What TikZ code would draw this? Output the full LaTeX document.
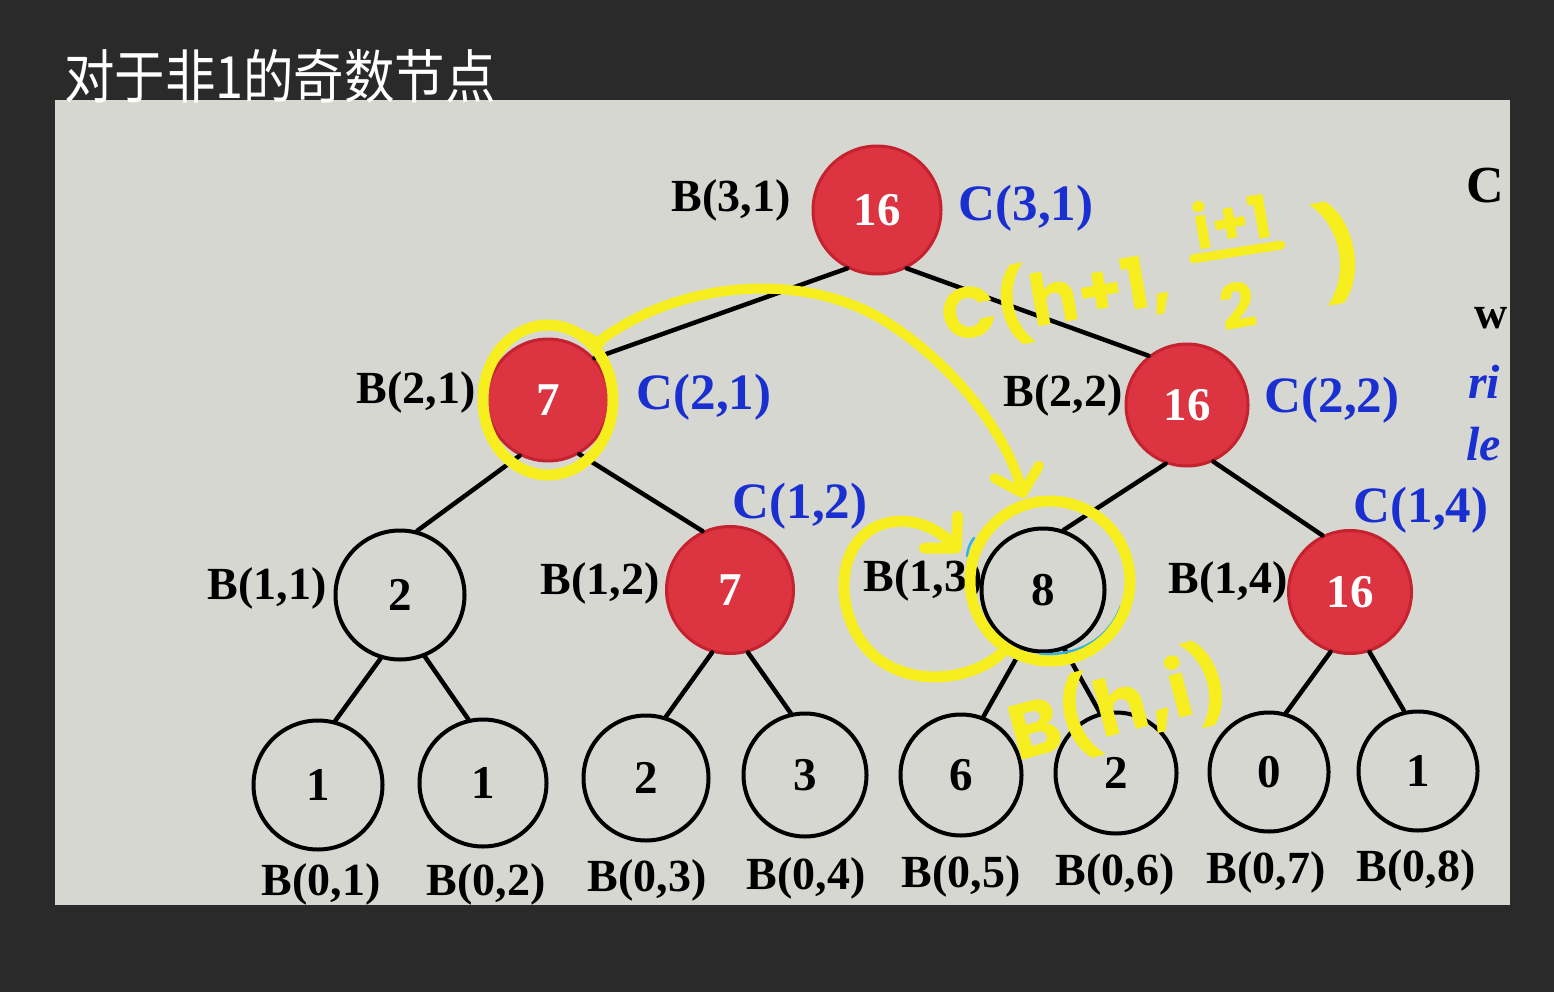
\documentclass[tikz,border=0pt]{standalone}
\usepackage{fontspec}
\setmainfont{Liberation Serif}
\newfontfamily\cjkhand{Noto Sans CJK SC}
\newfontfamily\handfont{Poppins}
\usetikzlibrary{arrows.meta}
\definecolor{bgdark}{HTML}{2A2A2A}
\definecolor{screen}{HTML}{D6D7D1}
\definecolor{nodered}{HTML}{DC3440}
\definecolor{noderim}{HTML}{C4222E}
\definecolor{labblue}{HTML}{1A2FD0}
\definecolor{hiyellow}{HTML}{F6EE1E}
\definecolor{pencyan}{HTML}{38B2DA}
\tikzset{
  lbl/.style={inner sep=0pt, font=\fontsize{46}{50}\selectfont\bfseries},
  clbl/.style={inner sep=0pt, text=labblue, font=\fontsize{51}{55}\selectfont\bfseries},
  leaflbl/.style={lbl},
  numfont/.style={font=\fontsize{47}{50}\selectfont\bfseries},
  wnode/.style={circle, draw=black, line width=4pt, fill=screen, inner sep=0pt, numfont},
  rnode/.style={circle, draw=noderim, line width=3pt, fill=nodered, text=white, inner sep=0pt, numfont},
  edge/.style={line width=4.5pt, line cap=round},
  pen/.style={draw=hiyellow, line width=11pt, line cap=round, line join=round},
  penarrow/.style={pen, -{Straight Barb[length=22pt,width=46pt,round]}},
  pentext/.style={text=hiyellow, inner sep=0pt, font=\handfont\bfseries\fontsize{72}{76}\selectfont},
}
\begin{document}
\begin{tikzpicture}[x=1pt,y=-1pt]
\useasboundingbox (0,0) rectangle (1554,992);
\fill[bgdark] (0,0) rectangle (1554,992);
\fill[screen] (55,100) rectangle (1510,905);

% handwritten title
\node[anchor=west, text=white, inner sep=0pt, font=\cjkhand\fontsize{52}{58}\selectfont] (title) at (64,76) {\scalebox{0.97}[1.12]{对于非1的奇数节点}};

% clipped text at right edge
\begin{scope}
\clip (55,100) rectangle (1510,905);
\node[lbl, anchor=west, font=\fontsize{52}{56}\selectfont\bfseries] (rc) at (1466,186) {C};
\node[lbl, anchor=west] (rw) at (1474,318) {w};
\node[clbl, anchor=west, font=\fontsize{48}{52}\selectfont\bfseries\itshape] (rri) at (1468,382) {ri};
\node[clbl, anchor=west, font=\fontsize{48}{52}\selectfont\bfseries\itshape] (rle) at (1466,444) {le};
\end{scope}

% labels
\node[lbl]  (b31) at (731,200) {B(3,1)};
\node[clbl] (c31) at (1026,208) {C(3,1)};
\node[lbl]  (b21) at (416,392) {B(2,1)};
\node[clbl] (c21) at (704,397) {C(2,1)};
\node[lbl]  (b22) at (1063,395) {B(2,2)};
\node[clbl] (c22) at (1332,400) {C(2,2)};
\node[lbl]  (b11) at (267,588) {B(1,1)};
\node[lbl]  (b12) at (600,583) {B(1,2)};
\node[clbl] (c12) at (800,506) {C(1,2)};
\node[lbl]  (b13) at (923,580) {B(1,3)};
\node[lbl]  (b14) at (1228,582) {B(1,4)};
\node[clbl] (c14) at (1421,510) {C(1,4)};
\node[leaflbl] (b01) at (321,884) {B(0,1)};
\node[leaflbl] (b02) at (486,884) {B(0,2)};
\node[leaflbl] (b03) at (647,880) {B(0,3)};
\node[leaflbl] (b04) at (806,878) {B(0,4)};
\node[leaflbl] (b05) at (961,876) {B(0,5)};
\node[leaflbl] (b06) at (1115,874) {B(0,6)};
\node[leaflbl] (b07) at (1266,872) {B(0,7)};
\node[leaflbl] (b08) at (1416,870) {B(0,8)};

% tree nodes
\node[rnode, minimum size=128pt] (n31) at (877,210) {16};
\node[rnode, minimum size=122pt] (n21) at (548,400) {7};
\node[rnode, minimum size=122pt] (n22) at (1187,405) {16};
\node[wnode, minimum size=129pt] (n11) at (400,595) {2};
\node[rnode, minimum size=127pt] (n12) at (730,590) {7};
\node[wnode, minimum size=123pt] (n13) at (1043,590) {8};
\node[rnode, minimum size=123pt] (n14) at (1350,592) {16};
\node[wnode, minimum size=129pt] (l1) at (318,785) {1};
\node[wnode, minimum size=127pt] (l2) at (483,783) {1};
\node[wnode, minimum size=125pt] (l3) at (646,778) {2};
\node[wnode, minimum size=123pt] (l4) at (805,775) {3};
\node[wnode, minimum size=121pt] (l5) at (961,775) {6};
\node[wnode, minimum size=121pt] (l6) at (1116,773) {2};
\node[wnode, minimum size=119pt] (l7) at (1269,772) {0};
\node[wnode, minimum size=119pt] (l8) at (1418,771) {1};

% edges
\draw[edge] (n31.243) -- (n21.42);
\draw[edge] (n31.297) -- (n22.128);
\draw[edge] (n21.243) -- (n11.75);
\draw[edge] (n21.300) -- (n12.115);
\draw[edge] (n22.250) -- (n13.71);
\draw[edge] (n22.295) -- (n14.116);
\draw[edge] (n11.253) -- (l1.75);
\draw[edge] (n11.292) -- (l2.103);
\draw[edge] (n12.254) -- (l3.72);
\draw[edge] (n12.286) -- (l4.103);
\draw[edge] (n13.250) -- (l5.69);
\draw[edge] (n13.290) -- (l6.105);
\draw[edge] (n14.252) -- (l7.74);
\draw[edge] (n14.288) -- (l8.103);

% cyan pen strokes
\draw[pencyan, line width=2.5pt, line cap=round] (1121,606) .. controls (1108,640) and (1078,656) .. (1040,654);
\draw[pencyan, line width=2.5pt, line cap=round] (967,556) .. controls (968,548) and (970,543) .. (974,538);

% yellow highlighter annotations
\draw[pen] (n21.center) ellipse[x radius=65, y radius=75];
\draw[pen, line width=6pt] (496,350) .. controls (518,322) and (575,320) .. (602,344);
\draw[pen] (1050,581) ellipse[x radius=80, y radius=80];
\coordinate (bigStart) at (598,342);
\coordinate (bigEnd) at (1024,498);
\draw[penarrow, line width=10pt] (bigStart) .. controls (680,280) and (800,272) .. (880,318) .. controls (950,360) and (1005,430) .. (bigEnd);
\coordinate (loopStart) at (1003,652);
\coordinate (loopEnd) at (960,552);
\draw[penarrow] (loopStart) .. controls (960,692) and (860,690) .. (845,600) .. controls (835,520) and (910,500) .. (loopEnd);

% handwritten formulas
\node[pentext, rotate=10] (formC) at (1056,298) {C(h+1,};
\node[pentext, rotate=10, font=\handfont\bfseries\fontsize{60}{64}\selectfont] (formNum) at (1232,220) {i+1};
\node[pentext, rotate=10, font=\handfont\bfseries\fontsize{62}{66}\selectfont] (formDen) at (1238,306) {2};
\draw[pen, line width=9pt] (formNum.south west) ++(-4,8) coordinate (barL) -- ([shift={(6,8)}]formNum.south east) coordinate (barR);
\node[pentext, rotate=10, font=\handfont\bfseries\fontsize{92}{96}\selectfont] (formClose) at (1340,252) {)};
\node[pentext, rotate=15, font=\handfont\bfseries\fontsize{78}{82}\selectfont] (formB) at (1118,706) {B(h,i)};
\end{tikzpicture}
\end{document}
